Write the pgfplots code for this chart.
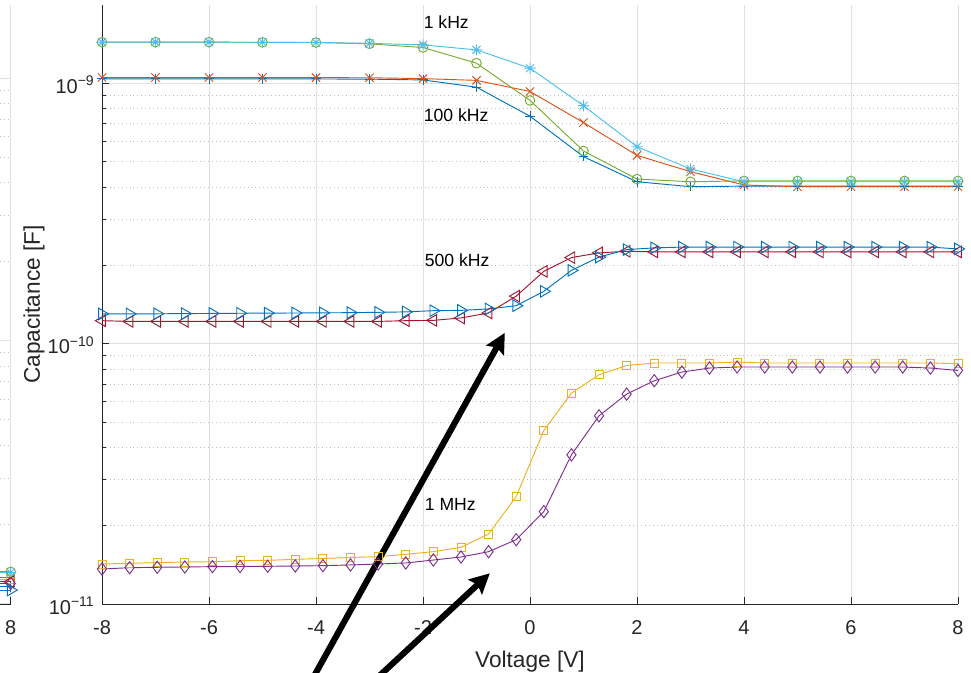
\documentclass[border=0pt]{standalone}
\usepackage{fontspec}
\setmainfont{Liberation Sans}
\usepackage{pgfplots}
\usepackage{pgfplotstable}
\pgfplotsset{compat=1.18}
\usetikzlibrary{arrows.meta}

\definecolor{c1}{RGB}{0,114,189}
\definecolor{c2}{RGB}{217,83,25}
\definecolor{c3}{RGB}{237,177,32}
\definecolor{c4}{RGB}{126,47,142}
\definecolor{c5}{RGB}{119,172,48}
\definecolor{c6}{RGB}{77,190,238}
\definecolor{c7}{RGB}{162,20,47}
\definecolor{axc}{RGB}{38,38,38}
\definecolor{gridc}{RGB}{224,224,224}
\definecolor{mgridc}{RGB}{190,190,190}

\pgfdeclareplotmark{ast8}{%
 \pgfpathmoveto{\pgfqpoint{-\pgfplotmarksize}{0pt}}\pgfpathlineto{\pgfqpoint{\pgfplotmarksize}{0pt}}%
 \pgfpathmoveto{\pgfqpoint{0pt}{-\pgfplotmarksize}}\pgfpathlineto{\pgfqpoint{0pt}{\pgfplotmarksize}}%
 \pgfpathmoveto{\pgfqpoint{-.7071\pgfplotmarksize}{-.7071\pgfplotmarksize}}\pgfpathlineto{\pgfqpoint{.7071\pgfplotmarksize}{.7071\pgfplotmarksize}}%
 \pgfpathmoveto{\pgfqpoint{-.7071\pgfplotmarksize}{.7071\pgfplotmarksize}}\pgfpathlineto{\pgfqpoint{.7071\pgfplotmarksize}{-.7071\pgfplotmarksize}}%
 \pgfusepathqstroke}

\newcommand{\tickfont}{\fontsize{15}{15}\selectfont}
\newcommand{\labfont}{\fontsize{17}{17}\selectfont}
\newcommand{\annfont}{\fontsize{13.2}{13.2}\selectfont}
\newcommand{\sexp}[1]{10\raisebox{5.8pt}{\fontsize{10.5}{10.5}\selectfont #1}}

% 17-point series (1 kHz and 100 kHz)
\pgfplotstableread{
x  plus      cross     circ      star
-8 1.041e-9  1.053e-9  1.440e-9  1.440e-9
-7 1.041e-9  1.053e-9  1.440e-9  1.440e-9
-6 1.041e-9  1.053e-9  1.440e-9  1.440e-9
-5 1.041e-9  1.053e-9  1.438e-9  1.438e-9
-4 1.040e-9  1.052e-9  1.435e-9  1.436e-9
-3 1.038e-9  1.051e-9  1.419e-9  1.425e-9
-2 1.031e-9  1.043e-9  1.373e-9  1.406e-9
-1 9.67e-10  1.027e-9  1.196e-9  1.345e-9
0  7.48e-10  9.31e-10  8.60e-10  1.144e-9
1  5.23e-10  7.07e-10  5.50e-10  8.21e-10
2  4.19e-10  5.29e-10  4.29e-10  5.71e-10
3  4.01e-10  4.58e-10  4.19e-10  4.69e-10
4  4.03e-10  4.07e-10  4.22e-10  4.19e-10
5  4.03e-10  4.01e-10  4.22e-10  4.19e-10
6  4.03e-10  4.01e-10  4.22e-10  4.19e-10
7  4.03e-10  4.01e-10  4.22e-10  4.19e-10
8  4.03e-10  4.01e-10  4.22e-10  4.19e-10
}\tabA

% 32-point series (500 kHz and 1 MHz)
\pgfplotstableread{
x        sq        di        lt        rt
-8.0000  1.425e-11 1.363e-11 1.226e-10 1.301e-10
-7.4839  1.434e-11 1.379e-11 1.218e-10 1.301e-10
-6.9677  1.442e-11 1.384e-11 1.218e-10 1.303e-10
-6.4516  1.450e-11 1.388e-11 1.218e-10 1.305e-10
-5.9355  1.454e-11 1.392e-11 1.218e-10 1.307e-10
-5.4194  1.467e-11 1.394e-11 1.218e-10 1.309e-10
-4.9032  1.472e-11 1.396e-11 1.218e-10 1.311e-10
-4.3871  1.485e-11 1.400e-11 1.218e-10 1.312e-10
-3.8710  1.496e-11 1.404e-11 1.218e-10 1.314e-10
-3.3548  1.510e-11 1.413e-11 1.218e-10 1.316e-10
-2.8387  1.520e-11 1.425e-11 1.218e-10 1.320e-10
-2.3226  1.553e-11 1.438e-11 1.226e-10 1.325e-10
-1.8065  1.589e-11 1.476e-11 1.229e-10 1.339e-10
-1.2903  1.652e-11 1.516e-11 1.256e-10 1.343e-10
-0.7742  1.858e-11 1.589e-11 1.312e-10 1.360e-10
-0.2581  2.586e-11 1.767e-11 1.523e-10 1.400e-10
0.2581   4.640e-11 2.265e-11 1.897e-10 1.589e-10
0.7742   6.460e-11 3.742e-11 2.142e-10 1.913e-10
1.2903   7.600e-11 5.285e-11 2.233e-10 2.151e-10
1.8065   8.250e-11 6.405e-11 2.265e-10 2.299e-10
2.3226   8.430e-11 7.207e-11 2.253e-10 2.334e-10
2.8387   8.430e-11 7.784e-11 2.253e-10 2.350e-10
3.3548   8.430e-11 8.063e-11 2.253e-10 2.350e-10
3.8710   8.500e-11 8.136e-11 2.253e-10 2.350e-10
4.3871   8.430e-11 8.136e-11 2.253e-10 2.350e-10
4.9032   8.430e-11 8.136e-11 2.253e-10 2.350e-10
5.4194   8.430e-11 8.136e-11 2.253e-10 2.350e-10
5.9355   8.430e-11 8.136e-11 2.253e-10 2.350e-10
6.4516   8.430e-11 8.136e-11 2.253e-10 2.350e-10
6.9677   8.430e-11 8.136e-11 2.253e-10 2.350e-10
7.4839   8.430e-11 8.063e-11 2.253e-10 2.350e-10
8.0000   8.380e-11 7.894e-11 2.253e-10 2.313e-10
}\tabB

% neighbouring panel, cut off at the left edge
\pgfplotstableread{
x   plus      cross     sq        di        circ      star      lt        rt
7   1.155e-11 1.258e-11 1.233e-11 1.190e-11 1.317e-11 1.308e-11 1.207e-11 1.122e-11
8   1.155e-11 1.258e-11 1.233e-11 1.190e-11 1.317e-11 1.308e-11 1.207e-11 1.122e-11
}\tabC

\begin{document}
\begin{tikzpicture}
% left, mostly cut-off panel
\begin{axis}[ymode=log, scale only axis, height=449.25pt, width=300pt,
  at={(8pt,51.75pt)}, anchor=south east,
  xmin=-8, xmax=8, ymin=9.93e-12, ymax=1.902e-9,
  axis x line*=bottom, axis y line*=left,
  axis line style={axc, line width=0.6pt},
  tick align=inside, major tick length=5.2pt, minor tick length=3.2pt,
  tick style={axc, line width=0.6pt},
  xmajorgrids, ymajorgrids, yminorgrids,
  major grid style={gridc, line width=0.75pt},
  minor grid style={mgridc, line width=0.6pt, dash pattern=on 0.55pt off 2.4pt},
  xtick={8},
  xticklabels={8},
  ytick={1e-11,1e-10,1e-9},
  yticklabels={},
  xticklabel style={font=\tickfont, text=axc, anchor=base, inner sep=0pt, yshift=-22.5pt},
  clip=false]
\addplot[c1, line width=0.7pt, mark=+, mark size=3.6pt] table[x=x, y=plus] {\tabC};
\addplot[c2, line width=0.7pt, mark=x, mark size=4.4pt] table[x=x, y=cross] {\tabC};
\addplot[c3, line width=0.7pt, mark=square, mark size=3pt] table[x=x, y=sq] {\tabC};
\addplot[c4, line width=0.7pt, mark=diamond, mark size=4.6pt] table[x=x, y=di] {\tabC};
\addplot[c5, line width=0.7pt, mark=o, mark size=3.6pt] table[x=x, y=circ] {\tabC};
\addplot[c6, line width=0.7pt, mark=ast8, mark size=4.2pt] table[x=x, y=star] {\tabC};
\addplot[c7, line width=0.7pt, mark=triangle, mark size=5pt, mark options={rotate=90}] table[x=x, y=lt] {\tabC};
\addplot[c1, line width=0.7pt, mark=triangle, mark size=5pt, mark options={rotate=-90}] table[x=x, y=rt] {\tabC};
\end{axis}

% main panel
\begin{axis}[ymode=log, scale only axis, height=449.25pt, width=642pt,
  at={(76.5pt,51.75pt)}, anchor=south west,
  xmin=-8, xmax=8, ymin=1e-11, ymax=2e-9,
  axis x line*=bottom, axis y line*=left,
  axis line style={axc, line width=0.6pt},
  tick align=inside, major tick length=5.2pt, minor tick length=3.2pt,
  tick style={axc, line width=0.6pt},
  xmajorgrids, ymajorgrids, yminorgrids,
  major grid style={gridc, line width=0.75pt},
  minor grid style={mgridc, line width=0.6pt, dash pattern=on 0.55pt off 2.4pt},
  xtick={-8,-6,-4,-2,0,2,4,6,8},
  xticklabels={-8,-6,-4,-2,0,2,4,6,8},
  ytick={1e-11,1e-10,1e-9},
  yticklabels={\sexp{−11},\sexp{−10},\sexp{−9}},
  xticklabel style={font=\tickfont, text=axc, anchor=base, inner sep=0pt, yshift=-22.5pt},
  yticklabel style={font=\tickfont, text=axc, anchor=base east, inner sep=0pt, xshift=-6pt, yshift=-7.6pt},
  clip=false,
  xlabel={Voltage [V]}, ylabel={Capacitance [F]},
  every axis x label/.style={at={(axis description cs:0.5,-0.10518)}, anchor=base, font=\labfont, text=axc},
  every axis y label/.style={at={(axis description cs:-0.07243,0.5)}, anchor=base, rotate=90, font=\labfont, text=axc}]
\addplot[c1, line width=0.7pt, mark=+, mark size=3.6pt] table[x=x, y=plus] {\tabA};
\addplot[c2, line width=0.7pt, mark=x, mark size=4.4pt] table[x=x, y=cross] {\tabA};
\addplot[c3, line width=0.7pt, mark=square, mark size=3pt] table[x=x, y=sq] {\tabB};
\addplot[c4, line width=0.7pt, mark=diamond, mark size=4.6pt] table[x=x, y=di] {\tabB};
\addplot[c5, line width=0.7pt, mark=o, mark size=3.6pt] table[x=x, y=circ] {\tabA};
\addplot[c6, line width=0.7pt, mark=ast8, mark size=4.2pt] table[x=x, y=star] {\tabA};
\addplot[c7, line width=0.7pt, mark=triangle, mark size=5pt, mark options={rotate=90}] table[x=x, y=lt] {\tabB};
\addplot[c1, line width=0.7pt, mark=triangle, mark size=5pt, mark options={rotate=-90}] table[x=x, y=rt] {\tabB};

\node[anchor=base west, inner sep=0pt, font=\annfont] at (axis cs:-1.99,1.63e-9) {1 kHz};
\node[anchor=base west, inner sep=0pt, font=\annfont] at (axis cs:-1.99,7.13e-10) {100 kHz};
\node[anchor=base west, inner sep=0pt, font=\annfont] at (axis cs:-1.97,1.972e-10) {500 kHz};
\node[anchor=base west, inner sep=0pt, font=\annfont] at (axis cs:-1.97,2.28e-11) {1 MHz};

\draw[black, line width=4.6pt, -{Stealth[length=15pt, width=15pt, inset=2.5pt]}]
  (axis cs:-4.29,4.26e-12) -- (axis cs:-0.471,1.101e-10);
\draw[black, line width=4.6pt, -{Stealth[length=15pt, width=15pt, inset=2.5pt]}]
  (axis cs:-3.307,4.27e-12) -- (axis cs:-0.751,1.312e-11);
\end{axis}
\pgfresetboundingbox
\useasboundingbox (0,0) rectangle (728.25pt,504.75pt);
\end{tikzpicture}
\end{document}
